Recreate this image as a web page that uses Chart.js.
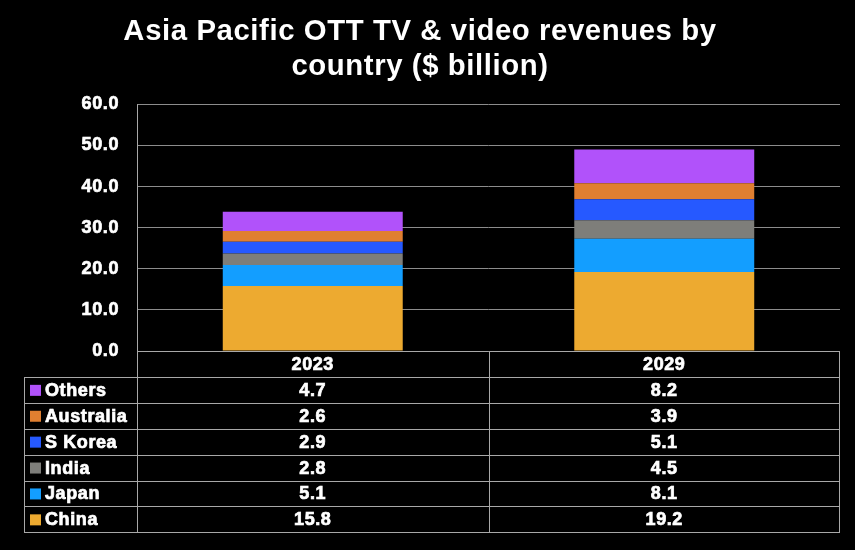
<!DOCTYPE html>
<html>
<head>
<meta charset="utf-8">
<script src="https://cdn.jsdelivr.net/npm/chart.js@4/dist/chart.umd.min.js"></script>
<style>
  html, body { margin: 0; padding: 0; background: #000; }
  #wrap { width: 855px; height: 550px; position: relative; }
</style>
</head>
<body>
<div id="wrap"><canvas id="c" width="855" height="550"></canvas></div>
<script>
const categories = ['2023', '2029'];
const seriesNames = ['China', 'Japan', 'India', 'S Korea', 'Australia', 'Others'];
const china = [15.8, 19.2];
const japan = [5.1, 8.1];
const india = [2.8, 4.5];
const sKorea = [2.9, 5.1];
const australia = [2.6, 3.9];
const others = [4.7, 8.2];
const seriesValues = [china, japan, india, sKorea, australia, others];
const seriesColors = ['#EDAA30', '#139EFF', '#7E7E7A', '#2659FF', '#E07F30', '#B152FA'];
const titleLines = ['Asia Pacific OTT TV & video revenues by', 'country ($ billion)'];

const FONT = "'Liberation Sans', Arial, sans-serif";
const LINE = '#a8a8a8';
const GRID = '#8c8c8c';
const SPACING = '0.6px';

const bgPlugin = {
  id: 'bg',
  beforeDraw(chart) {
    const ctx = chart.ctx;
    ctx.save();
    ctx.fillStyle = '#000';
    ctx.fillRect(0, 0, chart.width, chart.height);
    ctx.restore();
    ctx.letterSpacing = SPACING;
  }
};

const tablePlugin = {
  id: 'dataTable',
  afterDraw(chart) {
    const ctx = chart.ctx;
    const x = chart.scales.x;
    const area = chart.chartArea;
    const rowH = 25.9;
    const top = area.bottom;
    const tableLeft = 24;
    const colLeft = area.left;
    const right = area.right;
    const nRows = seriesNames.length;
    const bottom = top + rowH * (nRows + 1);
    const mid = (x.getPixelForValue(0) + x.getPixelForValue(1)) / 2;

    ctx.save();
    ctx.letterSpacing = SPACING;
    ctx.strokeStyle = LINE;
    ctx.lineWidth = 1;
    ctx.beginPath();
    ctx.moveTo(colLeft, top + 0.5); ctx.lineTo(right, top + 0.5);
    ctx.stroke();
    for (let r = 1; r <= nRows + 1; r++) {
      const yy = Math.round(top + rowH * r) + 0.5;
      ctx.beginPath();
      ctx.moveTo(tableLeft, yy); ctx.lineTo(right, yy);
      ctx.stroke();
    }
    const yFirst = Math.round(top + rowH) + 0.5;
    ctx.beginPath();
    ctx.moveTo(tableLeft + 0.5, yFirst); ctx.lineTo(tableLeft + 0.5, Math.round(bottom) + 0.5);
    ctx.moveTo(colLeft + 0.5, area.top); ctx.lineTo(colLeft + 0.5, Math.round(bottom) + 0.5);
    ctx.moveTo(Math.round(mid) + 0.5, top); ctx.lineTo(Math.round(mid) + 0.5, Math.round(bottom) + 0.5);
    ctx.moveTo(Math.round(right) - 0.5, top); ctx.lineTo(Math.round(right) - 0.5, Math.round(bottom) + 0.5);
    ctx.stroke();

    const txt = (s, px, py) => { ctx.fillText(s, px, py); ctx.strokeText(s, px, py); };
    ctx.fillStyle = '#fff';
    ctx.strokeStyle = '#fff';
    ctx.lineWidth = 0.7;
    ctx.font = 'bold 18px ' + FONT;
    ctx.textBaseline = 'middle';
    ctx.textAlign = 'center';
    categories.forEach((c, i) => {
      txt(c, x.getPixelForValue(i), top + rowH / 2 + 1);
    });
    for (let r = 0; r < nRows; r++) {
      const di = nRows - 1 - r;
      const cy = top + rowH * (r + 1) + rowH / 2 + 1;
      ctx.fillStyle = seriesColors[di];
      ctx.fillRect(30, cy - 6, 11, 11);
      ctx.fillStyle = '#fff';
      ctx.textAlign = 'left';
      txt(seriesNames[di], 45, cy);
      ctx.textAlign = 'center';
      seriesValues[di].forEach((v, i) => {
        txt(v.toFixed(1), x.getPixelForValue(i), cy);
      });
    }
    ctx.restore();
  }
};

new Chart(document.getElementById('c'), {
  type: 'bar',
  data: {
    labels: categories,
    datasets: seriesNames.map((name, i) => ({
      label: name,
      data: seriesValues[i],
      backgroundColor: seriesColors[i],
      borderWidth: 0,
      categoryPercentage: 1,
      barPercentage: 0.512
    }))
  },
  options: {
    responsive: false,
    animation: false,
    devicePixelRatio: 1,
    layout: { padding: { left: 0, right: 15, top: 0, bottom: 199 } },
    plugins: {
      legend: { display: false },
      tooltip: { enabled: false },
      title: {
        display: true,
        text: titleLines,
        color: '#fff',
        font: { family: FONT, size: 29.3, weight: 'bold' },
        lineHeight: 1.16,
        padding: { top: 14, bottom: 20 }
      }
    },
    scales: {
      x: {
        stacked: true,
        grid: { display: false },
        border: { display: false },
        ticks: { display: false },
        afterFit(scale) { scale.height = 0; }
      },
      y: {
        stacked: true,
        min: 0,
        max: 60,
        ticks: {
          stepSize: 10,
          color: '#fff',
          textStrokeColor: '#fff',
          textStrokeWidth: 0.7,
          font: { family: FONT, size: 18, weight: 'bold' },
          padding: 18,
          callback: v => Number(v).toFixed(1)
        },
        grid: { color: GRID, lineWidth: 1, drawTicks: false },
        border: { display: false },
        afterFit(scale) { scale.width = 137; }
      }
    }
  },
  plugins: [bgPlugin, tablePlugin]
});
</script>
</body>
</html>
